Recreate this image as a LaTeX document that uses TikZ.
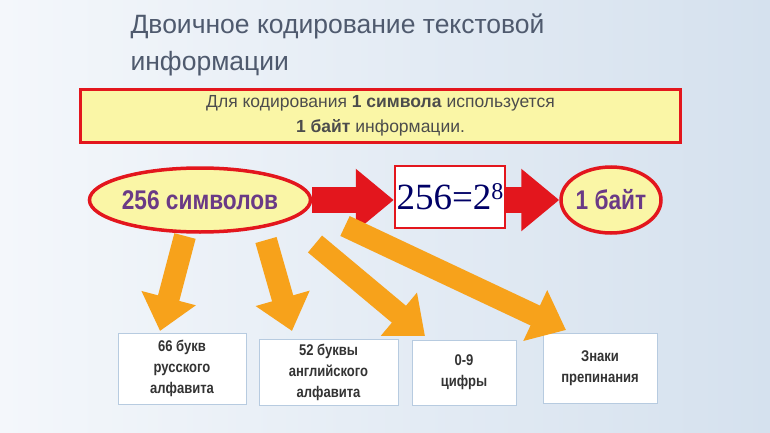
\documentclass[tikz,border=0pt]{standalone}
\usepackage{fontspec}
\setmainfont{Liberation Sans}
\newfontfamily\narrowf[FakeStretch=0.84]{Liberation Sans}
\newfontfamily\timesf{Liberation Serif}
\usetikzlibrary{arrows.meta,shapes.geometric}
\definecolor{ttl}{HTML}{4F5A6E}
\definecolor{ylw}{HTML}{FAF6A6}
\definecolor{rd}{HTML}{E3161D}
\definecolor{org}{HTML}{F7A21B}
\definecolor{purp}{HTML}{6A3A86}
\definecolor{bxb}{HTML}{B7CBE0}
\definecolor{bgl}{HTML}{F4F7FB}
\definecolor{bgr}{HTML}{D5E1EE}
\begin{document}
\begin{tikzpicture}[x=1pt,y=-1pt,
  oval/.style={ellipse,draw=rd,line width=3.5pt,fill=ylw,font=\narrowf\bfseries\fontsize{27}{29}\selectfont,text=purp},
  leaf/.style={draw=bxb,fill=white,line width=0.6pt,font=\narrowf\bfseries\fontsize{15.5}{21}\selectfont,align=center,text=black!80,inner sep=0pt},
  redarr/.style={rd,line width=26pt,-{Triangle[width=60pt,length=38pt]}},
  orarr/.style={org,line width=22pt,-{Triangle[width=54pt,length=34pt]}}]
\shade[left color=bgl,right color=bgr] (0,0) rectangle (770,433);
\useasboundingbox (0,0) rectangle (770,433);
\node[text=ttl,font=\fontsize{26.5}{37}\selectfont,align=left,anchor=north west] (title) at (127,10) {Двоичное кодирование текстовой\\информации};
\node[draw=rd,line width=2.5pt,fill=ylw,minimum width=600pt,minimum height=53pt,font=\fontsize{17.5}{25}\selectfont,text=black!70,align=center] (rule) at (380.5,116) {Для кодирования \textbf{1 символа} используется\\\textbf{1 байт} информации.};
\node[oval,minimum width=212pt,minimum height=64pt,inner sep=0pt] (sym) at (200,200) {256 символов};
\node[draw=rd,line width=2.5pt,fill=white,minimum width=110pt,minimum height=62pt,inner sep=0pt,text=blue!40!black,font=\timesf\fontsize{37}{38}\selectfont] (eq) at (450,197) {256=2\raisebox{0.6ex}{\fontsize{24}{24}\selectfont 8}};
\node[oval,minimum width=100pt,minimum height=66pt,inner sep=0pt] (byte) at (611,200) {1 байт};
\draw[redarr] (sym.east) -- (eq.west |- sym.east);
\draw[redarr] (eq.east |- byte.west) -- (byte.west);
\node[leaf,minimum width=128pt,minimum height=71pt] (b1) at (182,368.5) {66 букв\\русского\\алфавита};
\node[leaf,minimum width=139pt,minimum height=66pt] (b2) at (328.5,372) {52 буквы\\английского\\алфавита};
\node[leaf,minimum width=104pt,minimum height=65pt] (b3) at (464,372.5) {0-9\\цифры};
\node[leaf,minimum width=114pt,minimum height=70pt] (b4) at (600,368) {Знаки\\препинания};
\coordinate (o1) at (185,236); \coordinate (t1) at (160,331);
\coordinate (o2) at (266,240); \coordinate (t2) at (292,331);
\coordinate (o3) at (315,244); \coordinate (t3) at (425,336);
\coordinate (o4) at (345,226); \coordinate (t4) at (566,330);
\draw[orarr] (o1) -- (t1);
\draw[orarr] (o2) -- (t2);
\draw[orarr] (o3) -- (t3);
\draw[orarr] (o4) -- (t4);
\end{tikzpicture}
\end{document}
